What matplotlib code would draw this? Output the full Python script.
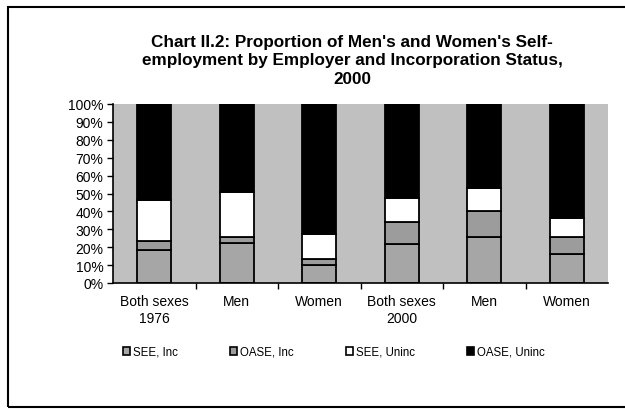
import matplotlib.pyplot as plt
from matplotlib.patches import Rectangle, Patch

categories = ["Both sexes\n1976", "Men", "Women", "Both sexes\n2000", "Men", "Women"]
series_names = ["SEE, Inc", "OASE, Inc", "SEE, Uninc", "OASE, Uninc"]
see_inc = [18.6, 22.2, 9.9, 22.0, 25.5, 16.4]
oase_inc = [4.7, 3.5, 3.3, 12.2, 14.5, 9.1]
see_uninc = [23.1, 25.0, 14.0, 13.1, 12.9, 10.8]
oase_uninc = [53.6, 49.3, 72.8, 52.7, 47.1, 63.7]
colors = ["#a6a6a6", "#9c9c9c", "#ffffff", "#000000"]

plt.rcParams['font.family'] = ['Liberation Sans', 'DejaVu Sans']

fig = plt.figure(figsize=(6.25, 4.1), dpi=100)
fig.patches.append(Rectangle((8 / 625, 2 / 410), 1.2, 400 / 410, transform=fig.transFigure,
                             fill=False, edgecolor="black", linewidth=1.5))

ax = fig.add_axes([113 / 625, 1 - 284 / 410, 495 / 625, 179 / 410])
ax.set_facecolor("#c0c0c0")

x = list(range(len(categories)))
bottom = [0] * len(categories)
for name, vals, c in zip(series_names, [see_inc, oase_inc, see_uninc, oase_uninc], colors):
    ax.bar(x, vals, width=0.41, bottom=bottom, color=c, edgecolor="black", linewidth=1.3, label=name)
    bottom = [b + v for b, v in zip(bottom, vals)]

ax.set_xlim(-0.5, len(categories) - 0.5)
ax.set_ylim(0, 100)
ax.set_yticks(range(0, 101, 10))
ax.set_yticklabels([f"{v}%" for v in range(0, 101, 10)], fontsize=10)
ax.set_xticks([i + 0.5 for i in range(len(categories) - 1)], minor=False)
ax.set_xticklabels([])
ax.set_xticks(x, minor=True)
ax.set_xticklabels(categories, minor=True, fontsize=10, linespacing=1.25)
ax.tick_params(axis="x", which="minor", length=0, pad=8)
ax.tick_params(axis="x", which="major", length=4, direction="out", width=1)
ax.tick_params(axis="y", length=4, width=1, pad=3)
for s in ["top", "right"]:
    ax.spines[s].set_visible(False)
ax.spines["left"].set_linewidth(1.2)
ax.spines["bottom"].set_linewidth(1.2)

fig.text(352 / 625, 1 - 61 / 410,
         "Chart II.2: Proportion of Men's and Women's Self-\nemployment by Employer and Incorporation Status,\n2000",
         ha="center", va="center", fontsize=12.3, fontweight="bold", linespacing=1.28)

handles = [Patch(facecolor=c, edgecolor="black", linewidth=1.2) for c in colors]
fig.legend(handles, series_names, loc="center", bbox_to_anchor=(334 / 625, 1 - 353 / 410),
           ncol=4, frameon=False, fontsize=8.3, handlelength=0.6, handleheight=0.6,
           handletextpad=0.3, columnspacing=4.5)

fig.savefig("out.png", dpi=100)
